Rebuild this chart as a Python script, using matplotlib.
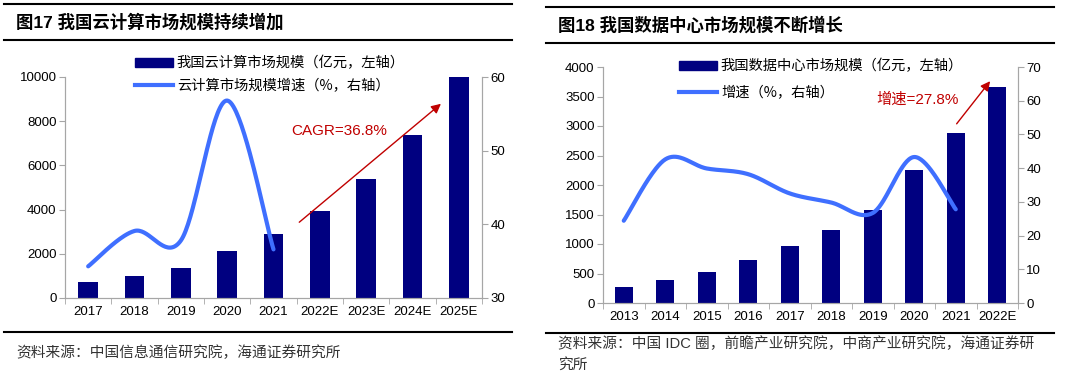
import matplotlib
matplotlib.use('Agg')
import matplotlib.pyplot as plt
import numpy as np
from matplotlib.patches import Patch
from matplotlib.lines import Line2D

plt.rcParams['font.family'] = ['Liberation Sans', 'Noto Sans CJK SC', 'DejaVu Sans']

# left chart: cloud computing market
cloud_years = ['2017', '2018', '2019', '2020', '2021', '2022E', '2023E', '2024E', '2025E']
cloud_size = [724, 995, 1372, 2127, 2911, 3952, 5400, 7360, 10000]
cloud_growth = [34.3, 39.1, 37.8, 56.8, 36.6]

# right chart: data center market
dc_years = ['2013', '2014', '2015', '2016', '2017', '2018', '2019', '2020', '2021', '2022E']
dc_size = [274, 391, 531, 727, 962, 1242, 1572, 2254, 2875, 3669]
dc_growth = [24.4, 42.6, 39.9, 38.2, 32.5, 29.8, 26.7, 43.3, 27.8]

W, H = 1080, 376
BAR = '#000080'
LINE = '#3F6FFF'
GRID = '#A6A6A6'
RED = '#C00000'
CJK = ['Noto Sans CJK SC', 'DejaVu Sans']


def fx(px):
    return px / W


def fy(py):
    return 1 - py / H


def smooth(xs, ys, n=40):
    # excel-like smoothed line (bezier through the points)
    xs = np.asarray(xs, float)
    ys = np.asarray(ys, float)
    outx, outy = [], []
    t = np.linspace(0, 1, n)
    for i in range(len(xs) - 1):
        x0, y0, x3, y3 = xs[i], ys[i], xs[i + 1], ys[i + 1]
        xm, ym = (xs[i - 1], ys[i - 1]) if i > 0 else (x0, y0)
        xp, yp = (xs[i + 2], ys[i + 2]) if i + 2 < len(xs) else (x3, y3)
        x1, y1 = x0 + (x3 - xm) / 6, y0 + (y3 - ym) / 6
        x2, y2 = x3 - (xp - x0) / 6, y3 - (yp - y0) / 6
        bx = (1 - t)**3 * x0 + 3 * (1 - t)**2 * t * x1 + 3 * (1 - t) * t**2 * x2 + t**3 * x3
        by = (1 - t)**3 * y0 + 3 * (1 - t)**2 * t * y1 + 3 * (1 - t) * t**2 * y2 + t**3 * y3
        outx.extend(bx)
        outy.extend(by)
    return outx, outy


def style_axes(ax, ax2, n):
    for a in (ax, ax2):
        a.spines['top'].set_visible(False)
        for s in ('left', 'right', 'bottom'):
            a.spines[s].set_color(GRID)
            a.spines[s].set_linewidth(0.8)
        a.tick_params(axis='y', direction='out', length=4, color=GRID, labelsize=9.5, pad=2)
    ax.set_xlim(-0.5, n - 0.5)
    ax.set_xticks(range(n))
    ax.tick_params(axis='x', length=0, labelsize=9.5, pad=6)
    ax.set_xticks(np.arange(n + 1) - 0.5, minor=True)
    ax.tick_params(axis='x', which='minor', length=4, color=GRID, direction='out')


fig = plt.figure(figsize=(W / 100, H / 100), dpi=100)

# ---------- left chart ----------
ax = fig.add_axes([fx(65), 1 - 298 / H, (482 - 65) / W, (298 - 77) / H])
ax2 = ax.twinx()
x = np.arange(len(cloud_years))
ax.bar(x, cloud_size, width=0.43, color=BAR, zorder=2)
ax.set_ylim(0, 10000)
ax.set_yticks(range(0, 10001, 2000))
ax2.set_ylim(30, 60)
ax2.set_yticks([30, 40, 50, 60])
sx, sy = smooth(x[:len(cloud_growth)], cloud_growth)
ax2.plot(sx, sy, color=LINE, lw=3, solid_capstyle='round')
style_axes(ax, ax2, len(cloud_years))
ax.set_xticklabels(cloud_years)
ax.annotate('', xy=(7.66, 8869), xytext=(4.51, 3348),
            arrowprops=dict(arrowstyle='-|>', color=RED, lw=1, mutation_scale=14))
ax.text(5.41, 7557, 'CAGR=36.8%', color=RED, fontsize=11, ha='center', va='center')
ax.legend(handles=[Patch(color=BAR, label='我国云计算市场规模（亿元，左轴）'),
                   Line2D([], [], color=LINE, lw=3, label='云计算市场规模增速（%，右轴）')],
          loc='upper left', bbox_to_anchor=(fx(135), fy(56)), bbox_transform=fig.transFigure,
          frameon=False, prop={'family': CJK, 'size': 10.3}, handlelength=2.65, handleheight=0.6,
          handletextpad=0.28, labelspacing=0.62, borderpad=0, borderaxespad=0)

# ---------- right chart ----------
bx = fig.add_axes([fx(603), 1 - 303 / H, (1018 - 603) / W, (303 - 67) / H])
bx2 = bx.twinx()
x = np.arange(len(dc_years))
bx.bar(x, dc_size, width=0.43, color=BAR, zorder=2)
bx.set_ylim(0, 4000)
bx.set_yticks(range(0, 4001, 500))
bx2.set_ylim(0, 70)
bx2.set_yticks(range(0, 71, 10))
sx, sy = smooth(x[:len(dc_growth)], dc_growth)
bx2.plot(sx, sy, color=LINE, lw=3, solid_capstyle='round')
style_axes(bx, bx2, len(dc_years))
bx.set_xticklabels(dc_years)
bx.annotate('', xy=(8.87, 3797), xytext=(7.98, 3000),
            arrowprops=dict(arrowstyle='-|>', color=RED, lw=1, mutation_scale=14))
bx.text(7.07, 3440, '增速=27.8%', color=RED, fontsize=11, ha='center', va='center')
bx.legend(handles=[Patch(color=BAR, label='我国数据中心市场规模（亿元，左轴）'),
                   Line2D([], [], color=LINE, lw=3, label='增速（%，右轴）')],
          loc='upper left', bbox_to_anchor=(fx(679), fy(59)), bbox_transform=fig.transFigure,
          frameon=False, prop={'family': CJK, 'size': 10.3}, handlelength=2.65, handleheight=0.6,
          handletextpad=0.28, labelspacing=0.9, borderpad=0, borderaxespad=0)

# ---------- titles, rules, sources ----------
for x0, x1, y in [(4, 512, 4), (4, 512, 40), (4, 512, 332),
                  (546, 1054, 7), (546, 1054, 43), (546, 1054, 333)]:
    fig.add_artist(Line2D([fx(x0), fx(x1)], [fy(y), fy(y)], color='black', lw=1.5))

fig.text(fx(16), fy(22), '图17 我国云计算市场规模持续增加', fontsize=12.5, fontweight='bold', va='center')
fig.text(fx(558), fy(25), '图18 我国数据中心市场规模不断增长', fontsize=12.5, fontweight='bold', va='center')
fig.text(fx(16), fy(353), '资料来源：中国信息通信研究院，海通证券研究所', fontsize=10.6, va='center',
         family=CJK, color='#333333')
fig.text(fx(558), fy(344), '资料来源：中国 IDC 圈，前瞻产业研究院，中商产业研究院，海通证券研', fontsize=10.6,
         va='center', family=['Liberation Sans'] + CJK, color='#333333')
fig.text(fx(558), fy(365), '究所', fontsize=10.6, va='center', family=CJK, color='#333333')

fig.savefig('out.png', dpi=100)
